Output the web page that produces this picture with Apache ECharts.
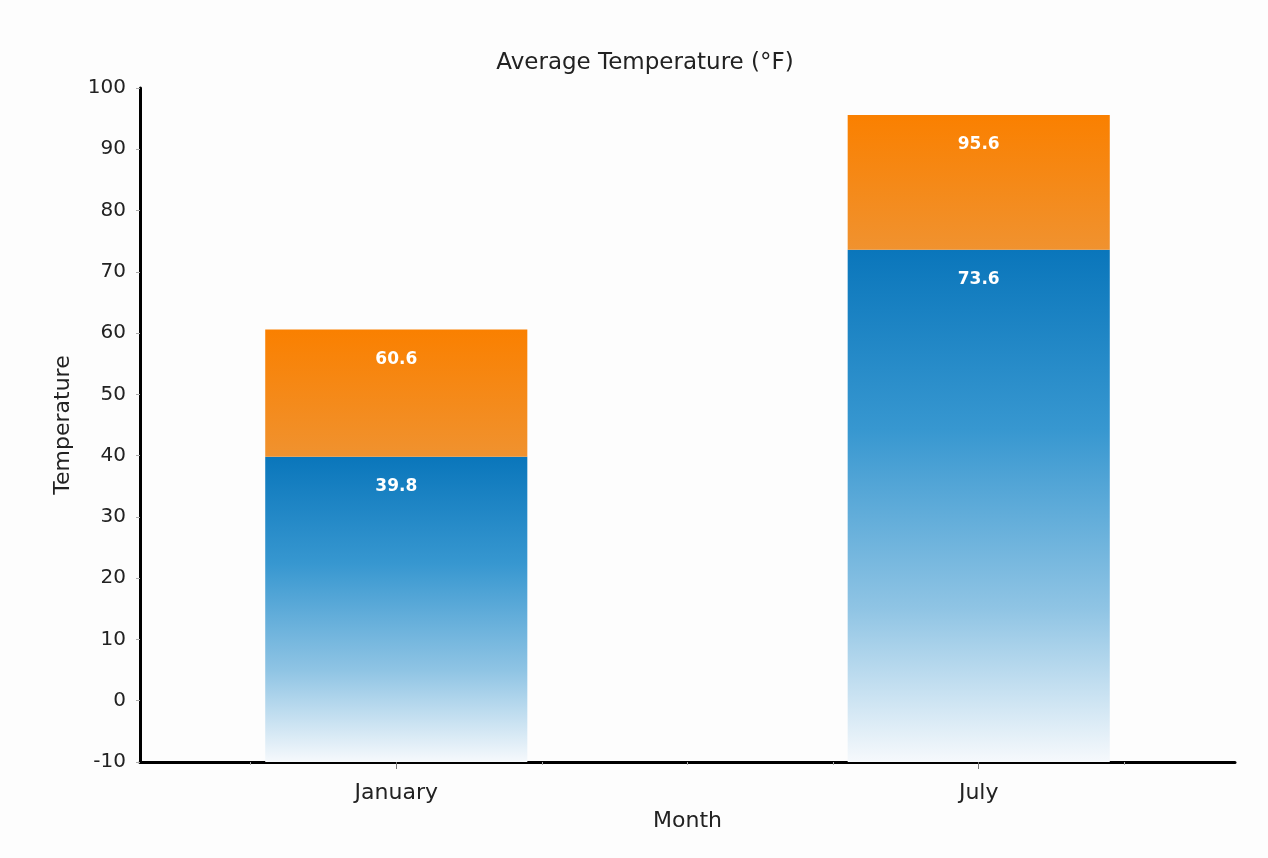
<!DOCTYPE html>
<html>
<head>
<meta charset="utf-8">
<script src="https://cdn.jsdelivr.net/npm/echarts@6/dist/echarts.min.js"></script>
<style>
html,body{margin:0;padding:0;background:#fdfdfd;}
#chart{width:1268px;height:858px;}
</style>
</head>
<body>
<div id="chart"></div>
<script>
// ---- data ----
const categories = ['January', 'July'];
const lowTemps = [39.8, 73.6];   // blue segment top (average low)
const highTemps = [60.6, 95.6];  // orange segment top (average high)
const yMin = -10;
const yMax = 100;
const yStep = 10;
const chartTitle = 'Average Temperature (°F)';
const xName = 'Month';
const yName = 'Temperature';

const FONT = 'DejaVu Sans';
const chart = echarts.init(document.getElementById('chart'));

const blueData = categories.map((c, i) => [i, yMin, lowTemps[i]]);
const orangeData = categories.map((c, i) => [i, lowTemps[i], highTemps[i]]);

function makeRender(colors) {
  return function (params, api) {
    const x = api.value(0), v0 = api.value(1), v1 = api.value(2);
    const p0 = api.coord([x, v0]);
    const p1 = api.coord([x, v1]);
    const w = api.size([0.45, 0])[0];
    return {
      type: 'group',
      children: [
        {
          type: 'rect',
          shape: { x: p0[0] - w / 2, y: p1[1], width: w, height: p0[1] - p1[1] },
          style: {
            fill: new echarts.graphic.LinearGradient(0, 0, 0, 1, colors)
          }
        },
        {
          type: 'text',
          x: p0[0],
          y: p1[1] + 30,
          style: {
            text: String(v1),
            fill: '#ffffff',
            font: 'bold 17px "' + FONT + '"',
            align: 'center',
            verticalAlign: 'middle'
          }
        }
      ]
    };
  };
}

const xMinV = -0.44, xMaxV = 1.44;

chart.setOption({
  backgroundColor: '#fdfdfd',
  animation: false,
  title: {
    text: chartTitle,
    left: 640,
    top: 47,
    textAlign: 'center',
    textStyle: { fontFamily: FONT, fontSize: 23, fontWeight: 'normal', color: '#222' }
  },
  grid: { left: 140, right: 33, top: 88, bottom: 96 },
  xAxis: [
    {
      type: 'value',
      min: xMinV,
      max: xMaxV,
      name: xName,
      nameLocation: 'middle',
      nameGap: 48,
      nameTextStyle: { fontFamily: FONT, fontSize: 22, color: '#222' },
      axisLine: { show: true, onZero: false, lineStyle: { color: '#000', width: 3 } },
      axisTick: { show: true, customValues: [0, 1], length: 7, lineStyle: { color: '#777' } },
      axisLabel: {
        customValues: [0, 1],
        formatter: v => categories[Math.round(v)],
        fontFamily: FONT, fontSize: 22, color: '#222', margin: 20
      },
      splitLine: { show: false }
    },
    {
      type: 'value',
      min: xMinV,
      max: xMaxV,
      position: 'bottom',
      axisLine: { show: false, onZero: false },
      axisTick: { show: true, customValues: [-0.25, 0.25, 0.5, 0.75, 1.25], length: 3, lineStyle: { color: '#aaa' } },
      axisLabel: { show: false },
      splitLine: { show: false }
    }
  ],
  yAxis: {
    type: 'value',
    min: yMin,
    max: yMax,
    interval: yStep,
    name: yName,
    nameLocation: 'middle',
    nameGap: 66,
    nameRotate: 90,
    nameTextStyle: { fontFamily: FONT, fontSize: 22, color: '#222' },
    axisLine: { show: true, onZero: false, lineStyle: { color: '#000', width: 3 } },
    axisTick: { show: true, length: 4, lineStyle: { color: '#aaa' } },
    axisLabel: { fontFamily: FONT, fontSize: 20, color: '#222', margin: 14 },
    splitLine: { show: false }
  },
  series: [
    {
      type: 'custom',
      name: 'Low',
      xAxisIndex: 0,
      renderItem: makeRender([
        { offset: 0, color: '#0a76bb' },
        { offset: 0.35, color: '#3797d0' },
        { offset: 0.7, color: '#8fc4e4' },
        { offset: 1, color: '#f6f9fc' }
      ]),
      data: blueData,
      encode: { x: 0, y: [1, 2] }
    },
    {
      type: 'custom',
      name: 'High',
      xAxisIndex: 0,
      renderItem: makeRender([
        { offset: 0, color: '#fa8000' },
        { offset: 1, color: '#f0922f' }
      ]),
      data: orangeData,
      encode: { x: 0, y: [1, 2] }
    }
  ]
});
</script>
</body>
</html>
